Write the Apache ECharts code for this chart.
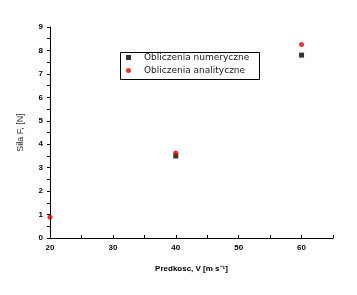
<!DOCTYPE html>
<html><head><meta charset="utf-8">
<script src="https://cdn.jsdelivr.net/npm/echarts@6/dist/echarts.min.js"></script>
<style>html,body{margin:0;padding:0;background:#fff}#c{width:357px;height:295px}</style>
</head><body><div id="c"></div>
<script>
const numX = [40, 60];
const numY = [3.5, 7.8];
const anaX = [20, 40, 60];
const anaY = [0.88, 3.63, 8.25];
const seriesNames = ['Obliczenia numeryczne', 'Obliczenia analityczne'];
const xTitle = 'Predkosc, V [m s⁻¹]';
const yTitle = 'Siła F, [N]';

const chart = echarts.init(document.getElementById('c'));
const font = 'Liberation Sans';
chart.setOption({
  animation: false,
  backgroundColor: '#fff',
  grid: {left: 50, top: 27, right: 24, bottom: 57, containLabel: false},
  xAxis: {
    type: 'value', min: 20, max: 65, interval: 5,
    axisLine: {lineStyle: {color: '#000', width: 1}},
    axisTick: {inside: true, length: 3, lineStyle: {color: '#000'}},
    splitLine: {show: false},
    axisLabel: {color: '#000', fontSize: 8, fontFamily: font, fontWeight: 'bold', margin: 6,
      formatter: v => (v % 10 === 0 && v <= 60) ? String(v) : ''},
    name: xTitle, nameLocation: 'middle', nameGap: 27,
    nameTextStyle: {color: '#000', fontSize: 8, fontFamily: font, fontWeight: 'bold'}
  },
  yAxis: {
    type: 'value', min: 0, max: 9, interval: 1,
    axisLine: {show: true, lineStyle: {color: '#000', width: 1}},
    axisTick: {show: true, length: 3, lineStyle: {color: '#000'}},
    minorTick: {show: true, splitNumber: 2, length: 3, lineStyle: {color: '#000'}},
    splitLine: {show: false},
    axisLabel: {color: '#000', fontSize: 8, fontFamily: font, fontWeight: 'bold', margin: 7},
    name: yTitle, nameLocation: 'middle', nameGap: 25, nameRotate: 90,
    nameTextStyle: {color: '#333', fontSize: 9, fontFamily: font}
  },
  legend: {
    orient: 'vertical', left: 126, top: 53, itemGap: 4, itemWidth: 5, itemHeight: 5,
    padding: 0,
    textStyle: {color: '#222', fontSize: 9, fontFamily: 'DejaVu Sans', padding: [0, 0, 0, 8]},
    data: [{name: seriesNames[0], icon: 'rect'}, {name: seriesNames[1], icon: 'circle'}]
  },
  graphic: [{
    type: 'rect', left: 118, top: 50, z: 100,
    shape: {width: 139, height: 27},
    style: {fill: 'none', stroke: '#000', lineWidth: 1}
  }],
  series: [
    {name: seriesNames[0], type: 'scatter', symbol: 'rect', symbolSize: 5,
     itemStyle: {color: '#000'}, data: numX.map((x, i) => [x, numY[i]])},
    {name: seriesNames[1], type: 'scatter', symbol: 'circle', symbolSize: 5,
     itemStyle: {color: '#e00000'}, data: anaX.map((x, i) => [x, anaY[i]])}
  ]
});
</script></body></html>
